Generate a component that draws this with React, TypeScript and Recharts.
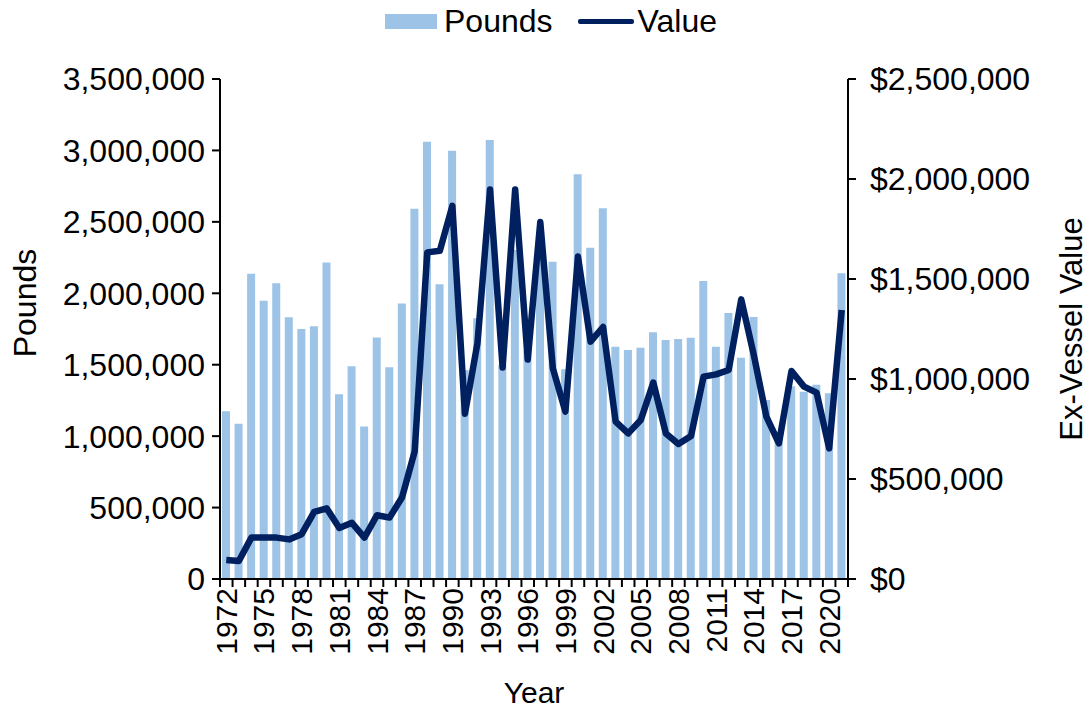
import React from 'react';
import { ComposedChart, Bar, Line, XAxis, YAxis } from 'recharts';

const years = [
  '1972', '1973', '1974', '1975', '1976', '1977', '1978', '1979', '1980', '1981',
  '1982', '1983', '1984', '1985', '1986', '1987', '1988', '1989', '1990', '1991',
  '1992', '1993', '1994', '1995', '1996', '1997', '1998', '1999', '2000', '2001',
  '2002', '2003', '2004', '2005', '2006', '2007', '2008', '2009', '2010', '2011',
  '2012', '2013', '2014', '2015', '2016', '2017', '2018', '2019', '2020', '2021',
];

const pounds = [
  1175000, 1086000, 2136000, 1948000, 2071000, 1832000, 1750000, 1769000, 2216000, 1294000,
  1489000, 1067000, 1690000, 1482000, 1929000, 2592000, 3061000, 2064000, 2998000, 1463000,
  1825000, 3073000, 1500000, 2303000, 1600000, 2256000, 2221000, 1468000, 2833000, 2319000,
  2595000, 1626000, 1603000, 1619000, 1727000, 1673000, 1680000, 1689000, 2086000, 1626000,
  1862000, 1549000, 1834000, 1253000, 1000000, 1350000, 1311000, 1360000, 1300000, 2140000,
];

const exVesselValue = [
  95000, 90000, 207000, 207000, 207000, 198000, 224000, 336000, 353000, 255000,
  281000, 207000, 319000, 307000, 409000, 638000, 1633000, 1641000, 1866000, 826000,
  1180000, 1948000, 1057000, 1948000, 1097000, 1785000, 1053000, 837000, 1612000, 1187000,
  1260000, 787000, 728000, 795000, 982000, 728000, 675000, 715000, 1012000, 1023000,
  1045000, 1398000, 1120000, 812000, 678000, 1040000, 962000, 932000, 653000, 1345000,
];

const poundTicks = [0, 500000, 1000000, 1500000, 2000000, 2500000, 3000000, 3500000];
const valueTicks = [0, 500000, 1000000, 1500000, 2000000, 2500000];
const labelEvery = 3;

const FONT = "Arial, 'Liberation Sans', sans-serif";
const FS = 32;
const FS_X = 30;
const BAR_COLOR = '#9DC3E6';
const LINE_COLOR = '#002060';

const CHART_W = 1091;
const CHART_H = 713;
const PLOT_LEFT = 220;
const PLOT_RIGHT = 848;
const PLOT_TOP = 79;
const PLOT_BOTTOM = 579;
const BAND = (PLOT_RIGHT - PLOT_LEFT) / years.length;

const data = years.map((year, i) => ({
  year,
  pounds: pounds[i],
  value: exVesselValue[i],
}));

// tick marks sit between categories, labels every third year
const YearTick = (props: any) => {
  const { x, y, payload, index } = props;
  const left = x - BAND / 2;
  return (
    <g>
      <line x1={left} x2={left} y1={y} y2={y + 8} stroke="#000" strokeWidth={2} />
      {index === years.length - 1 && (
        <line x1={x + BAND / 2} x2={x + BAND / 2} y1={y} y2={y + 8} stroke="#000" strokeWidth={2} />
      )}
      {index % labelEvery === 0 && (
        <text
          x={0}
          y={0}
          transform={`translate(${x}, ${y + 9}) rotate(-90)`}
          textAnchor="end"
          dy="0.35em"
          fontSize={FS_X}
          fontFamily={FONT}
          fill="#000"
        >
          {payload.value}
        </text>
      )}
    </g>
  );
};

const Legend = () => (
  <div
    style={{
      position: 'absolute',
      left: 385,
      top: 0,
      height: 42,
      display: 'flex',
      alignItems: 'center',
      fontFamily: FONT,
      fontSize: FS,
      color: '#000',
    }}
  >
    <span style={{ width: 52, height: 15, background: BAR_COLOR, display: 'inline-block', marginRight: 7 }} />
    <span style={{ marginRight: 25 }}>Pounds</span>
    <span style={{ width: 56, height: 5, background: LINE_COLOR, display: 'inline-block', borderRadius: 2, marginRight: 4 }} />
    <span>Value</span>
  </div>
);

const App: React.FC = () => {
  const tickStyle = { fontSize: FS, fontFamily: FONT, fill: '#000' };
  return (
    <div style={{ position: 'relative', width: CHART_W, height: CHART_H, background: '#fff' }}>
      <style>{'body{margin:0;overflow:hidden;}'}</style>
      <Legend />
      <ComposedChart
        width={CHART_W}
        height={CHART_H}
        data={data}
        margin={{ top: PLOT_TOP, right: 0, bottom: 0, left: 0 }}
        barSize={8}
      >
        <XAxis
          dataKey="year"
          height={CHART_H - PLOT_BOTTOM}
          interval={0}
          tickLine={false}
          tickSize={0}
          tickMargin={0}
          axisLine={{ stroke: '#000', strokeWidth: 2 }}
          tick={<YearTick />}
          label={() => (
            <text x={(PLOT_LEFT + PLOT_RIGHT) / 2} y={692} textAnchor="middle" dy="0.35em" fontSize={FS_X} fontFamily={FONT} fill="#000">
              Year
            </text>
          )}
        />
        <YAxis
          yAxisId="left"
          orientation="left"
          width={PLOT_LEFT}
          domain={[0, 3500000]}
          ticks={poundTicks}
          interval={0}
          tickSize={8}
          tickMargin={7}
          tick={tickStyle}
          tickLine={{ stroke: '#000', strokeWidth: 2 }}
          axisLine={{ stroke: '#000', strokeWidth: 2 }}
          tickFormatter={(v: number) => v.toLocaleString('en-US')}
          label={() => (
            <text x={0} y={0} transform="translate(25, 303) rotate(-90)" textAnchor="middle" dy="0.35em" fontSize={FS} fontFamily={FONT} fill="#000">
              Pounds
            </text>
          )}
        />
        <YAxis
          yAxisId="right"
          orientation="right"
          width={CHART_W - PLOT_RIGHT}
          domain={[0, 2500000]}
          ticks={valueTicks}
          interval={0}
          tickSize={8}
          tickMargin={14}
          tick={tickStyle}
          tickLine={{ stroke: '#000', strokeWidth: 2 }}
          axisLine={{ stroke: '#000', strokeWidth: 2 }}
          tickFormatter={(v: number) => '$' + v.toLocaleString('en-US')}
          label={() => (
            <text x={0} y={0} transform="translate(1072, 329) rotate(-90)" textAnchor="middle" dy="0.32em" fontSize={31} fontFamily={FONT} fill="#000">
              Ex-Vessel Value
            </text>
          )}
        />
        <Bar yAxisId="left" dataKey="pounds" name="Pounds" fill={BAR_COLOR} isAnimationActive={false} />
        <Line
          yAxisId="right"
          type="linear"
          dataKey="value"
          name="Value"
          stroke={LINE_COLOR}
          strokeWidth={6.5}
          strokeLinejoin="round"
          dot={false}
          activeDot={false}
          isAnimationActive={false}
        />
      </ComposedChart>
    </div>
  );
};

export default App;
